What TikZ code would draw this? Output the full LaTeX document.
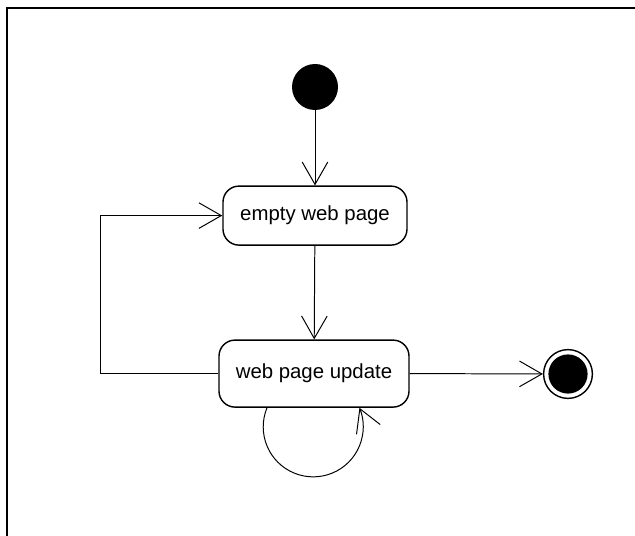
\documentclass[tikz,border=0pt]{standalone}
\usepackage{fontspec}
\setmainfont{Liberation Sans}
\usetikzlibrary{arrows.meta, positioning}

\begin{document}
\begin{tikzpicture}[
  trans/.style={-{Straight Barb[length=5.6mm, width=6.4mm, line width=0.7pt]}, line width=0.7pt},
  state/.style={draw, line width=1pt, rounded corners=0.4cm, font=\fontsize{14.5}{16}\selectfont},
  initial/.style={circle, fill=black, minimum size=1.15cm, inner sep=0pt},
  final/.style={circle, draw, line width=1pt, minimum size=1.22cm, inner sep=0pt,
    path picture={\fill (path picture bounding box.center) circle (0.49cm);}}
]
\useasboundingbox (0,0) rectangle (15.875,-13.4);
\draw[line width=1.4pt] (0.175,-13.5) -- (0.175,-0.2) -- (16,-0.2);

\node[initial] (start) at (7.875,-2.175) {};
\node[state, minimum width=4.6cm, minimum height=1.475cm] (empty) at (7.875,-5.39) {empty web page};
\node[state, minimum width=4.75cm, minimum height=1.675cm] (update) at (7.85,-9.34) {web page update};
\node[final] (stop) at (14.2,-9.35) {};
\coordinate (back) at (2.5,-9.34);

\draw[trans] (start) -- (empty);
\draw[trans] (empty) -- (update);
\draw[trans] (update.east) -- (stop);
\draw[trans] (update.west) -- (back) |- (empty.west);
% self transition under the update state
\draw[trans] ([xshift=-1.175cm]update.south) arc[start angle=157.6, end angle=382.4, radius=1.25cm];
\end{tikzpicture}
\end{document}
